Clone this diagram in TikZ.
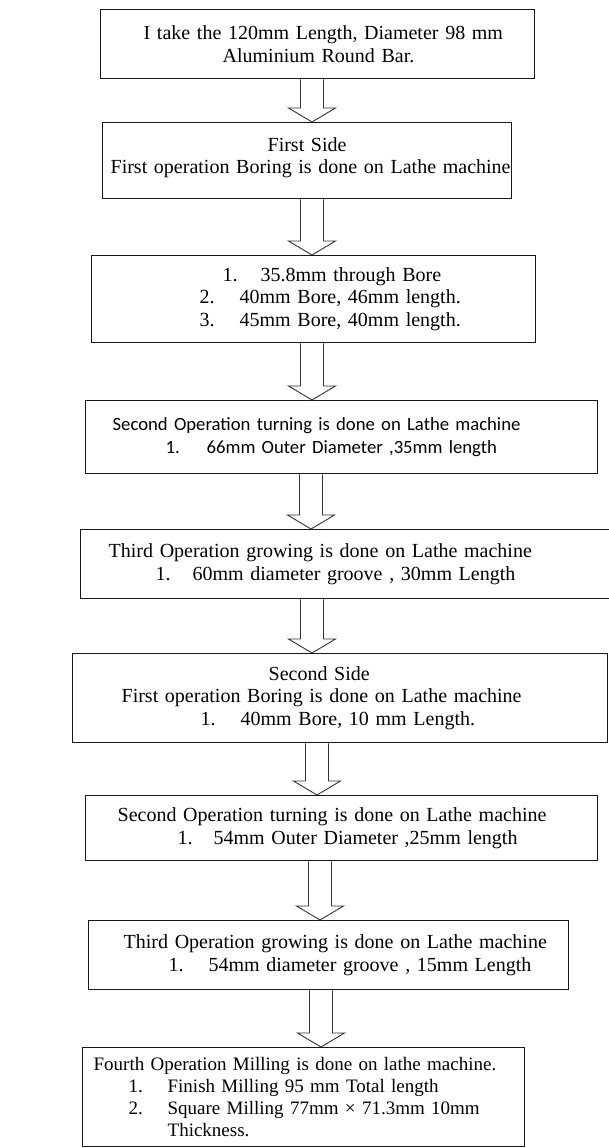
\documentclass[tikz,border=0pt]{standalone}
\usepackage{fontspec}
\setmainfont{Liberation Serif}
\newfontfamily\calfont{Carlito}
\usepackage{tikz}
\usetikzlibrary{positioning}
\usetikzlibrary{calc}
\newcommand\boxfont{\fontsize{20}{22.5}\selectfont}
\newcommand\numgap[2]{\makebox[#1pt][l]{#2}}
\tikzset{
  stepbox/.style={draw=black!90, line width=1.3pt, anchor=north west,
    inner xsep=0pt, inner ysep=0pt, align=left, font=\boxfont},
  hollow/.style={draw=black!80, line width=0.9pt, line join=miter,
    to path={let \p1=(\tikztostart), \p2=(\tikztotarget) in
      ({\x1-11.5pt},\y1) -- ({\x1-11.5pt},{\y2+14pt}) -- ({\x1-23.5pt},{\y2+14pt})
      -- (\x1,\y2) -- ({\x1+23.5pt},{\y2+14pt}) -- ({\x1+11.5pt},{\y2+14pt})
      -- ({\x1+11.5pt},\y1)}}
}

\begin{document}
\begin{tikzpicture}[x=1pt, y=-1pt]

\useasboundingbox (0,0) rectangle (608,1148);

% Bar
\node[stepbox, text width=434pt, minimum height=69pt] (bar) at (100,9)
  {\hspace*{43pt}I take the 120mm Length, Diameter 98 mm\\
   \hspace*{122pt}Aluminium Round Bar.};

% First side
\node[stepbox, text width=409pt, minimum height=76pt] (side1) at (102,122)
  {\hspace*{165pt}First Side\\
   \hspace*{8pt}First operation Boring is done on Lathe machine\\[-12pt]\mbox{}};

\node[stepbox, text width=444pt, minimum height=87pt] (bore1) at (91,255)
  {\hspace*{131pt}\numgap{38}{1.}35.8mm through Bore\\
   \hspace*{108pt}\numgap{40}{2.}40mm Bore, 46mm length.\\
   \hspace*{108pt}\numgap{40}{3.}45mm Bore, 40mm length.};

\node[stepbox, text width=512pt, minimum height=73pt, font={\calfont\fontsize{18.7}{23}\selectfont}] (turn1) at (85,400)
  {\hspace*{27pt}Second Operation turning is done on Lathe machine\\
   \hspace*{80pt}\numgap{41}{1.}66mm Outer Diameter ,35mm length};

\node[stepbox, text width=532pt, minimum height=69pt] (groove1) at (80,529)
  {\hspace*{28pt}Third Operation growing is done on Lathe machine\\
   \hspace*{75pt}\numgap{37}{1.}60mm diameter groove , 30mm Length};

% Second side
\node[stepbox, text width=535pt, minimum height=89pt] (side2) at (72,653)
  {\hspace*{196pt}Second Side\\
   \hspace*{49pt}First operation Boring is done on Lathe machine\\
   \hspace*{128pt}\numgap{40}{1.}40mm Bore, 10 mm Length.};

\node[stepbox, text width=512pt, minimum height=65pt] (turn2) at (85,795)
  {\hspace*{32pt}Second Operation turning is done on Lathe machine\\
   \hspace*{92pt}\numgap{36}{1.}54mm Outer Diameter ,25mm length};

\node[stepbox, text width=480pt, minimum height=69pt] (groove2) at (88,920)
  {\hspace*{35pt}Third Operation growing is done on Lathe machine\\
   \hspace*{80pt}\numgap{40}{1.}54mm diameter groove , 15mm Length};

% Milling
\node[stepbox, text width=442pt, minimum height=99pt, font={\fontsize{19}{22}\selectfont}] (mill) at (82,1047)
  {\hspace*{11pt}Fourth Operation Milling is done on lathe machine.\\
   \hspace*{46pt}\numgap{39}{1.}Finish Milling 95 mm Total length\\
   \hspace*{46pt}\numgap{39}{2.}Square Milling 77mm × 71.3mm 10mm\\
   \hspace*{85pt}Thickness.};

% Block arrows
\draw[hollow] (312,0 |- bar.south) to (312,0 |- side1.north);
\draw[hollow] (312,0 |- side1.south) to (312,0 |- bore1.north);
\draw[hollow] (312,0 |- bore1.south) to (312,0 |- turn1.north);
\draw[hollow] (311,0 |- turn1.south) to (311,0 |- groove1.north);
\draw[hollow] (312,0 |- groove1.south) to (312,0 |- side2.north);
\draw[hollow] (317,0 |- side2.south) to (317,0 |- turn2.north);
\draw[hollow] (320,0 |- turn2.south) to (320,0 |- groove2.north);
\draw[hollow] (321,0 |- groove2.south) to (321,0 |- mill.north);

\end{tikzpicture}
\end{document}
